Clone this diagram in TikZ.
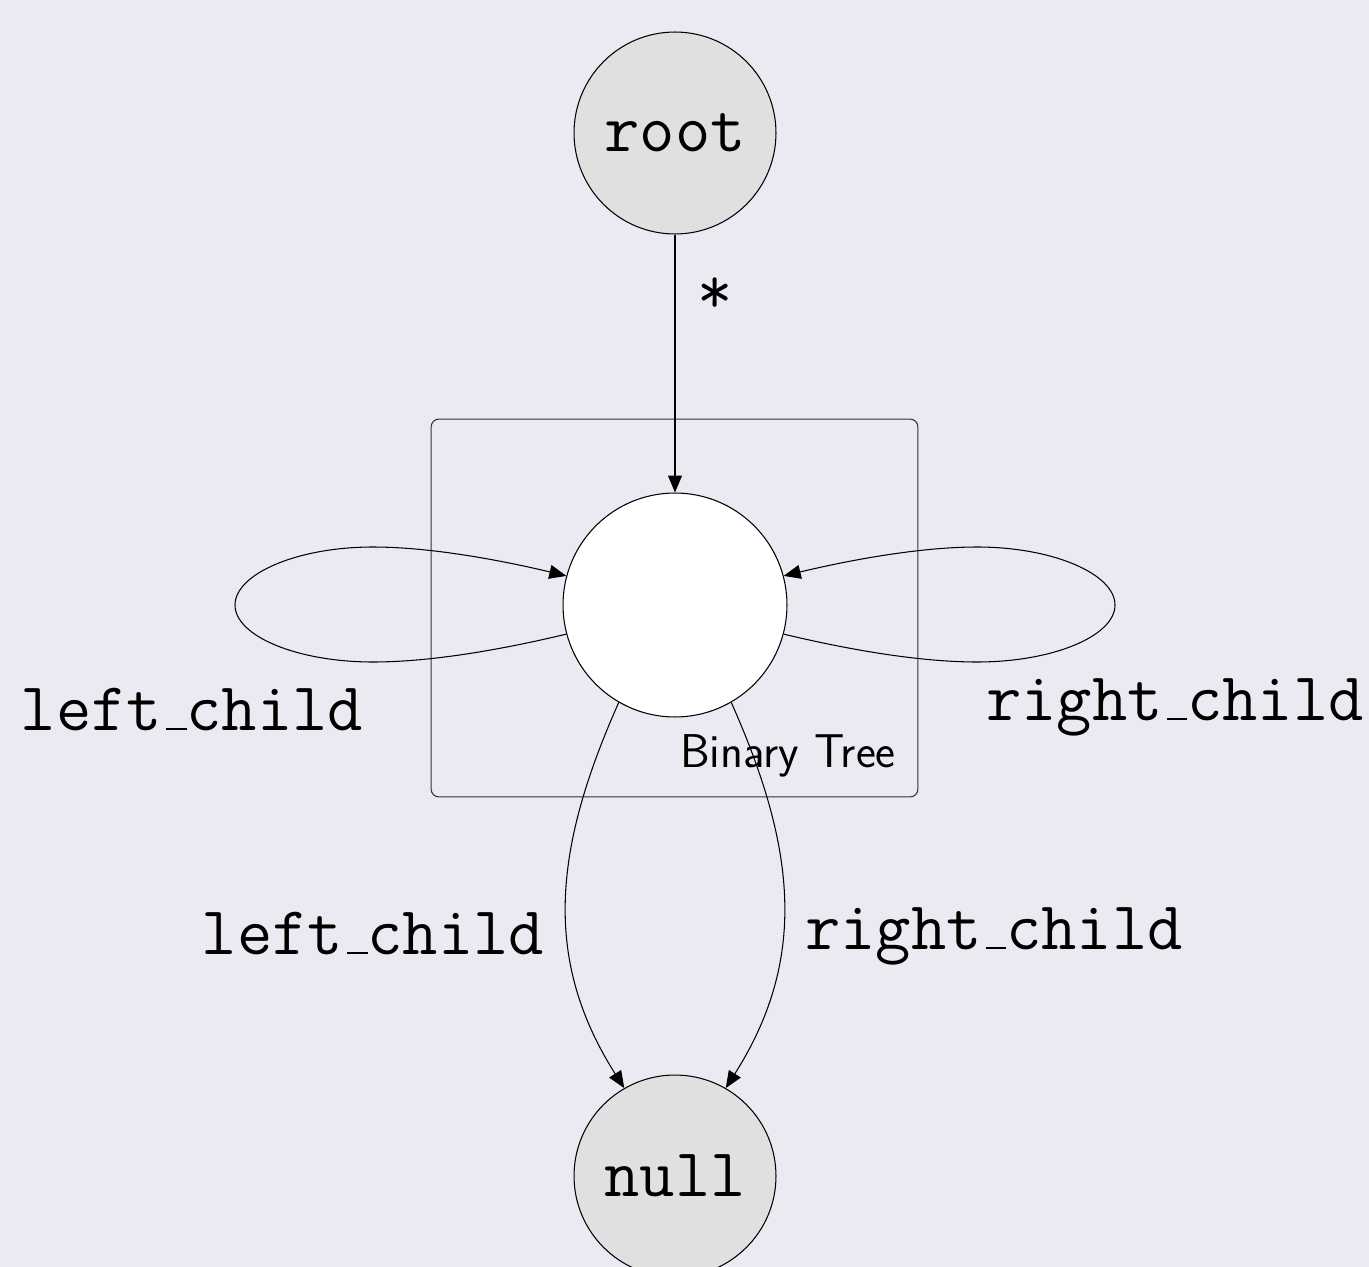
\documentclass[tikz,border=0pt]{standalone}
\usetikzlibrary{arrows.meta}
\definecolor{bgc}{HTML}{EAEAF2}
\definecolor{obsc}{HTML}{E0E0E0}
\newcommand{\usc}{\leavevmode\kern.06em\vbox{\hrule width.3em height 1pt}}
\tikzset{
  px/.style={x=0.02cm,y=-0.02cm},
  obsnode/.style={circle,draw=black,fill=obsc,line width=0.6pt,inner sep=0pt,minimum size=4.04cm,font=\fontsize{39}{42}\selectfont\ttfamily},
  latnode/.style={circle,draw=black,fill=white,line width=0.6pt,inner sep=0pt,minimum size=4.48cm},
  edgelbl/.style={anchor=base,font=\fontsize{39}{42}\selectfont\ttfamily,inner sep=0pt},
  platebox/.style={draw=black!80,line width=0.6pt,rounded corners=0.16cm,minimum width=9.74cm,minimum height=7.56cm,inner sep=0pt},
  edge/.style={draw=black,line width=0.6pt,-{Triangle[length=0.34cm,width=0.28cm]}}
}
\begin{document}
\begin{tikzpicture}[px]
\fill[bgc] (0,0) rectangle (1369,1267);
\useasboundingbox (0,0) rectangle (1369,1267);
\node[platebox] (plate) at (674.5,608) {};
\node[anchor=base east,font=\fontsize{27}{29}\selectfont\sffamily,inner sep=0pt] (platelbl) at (896,767) {Binary Tree};
\node[obsnode] (root) at (675,133) {root};
\node[latnode] (bt) at (675,605) {};
\node[obsnode] (null) at (675,1176) {null};
\draw[edge] (root) -- (bt);
\node[edgelbl] (star) at (715,314) {*};
\draw[edge] (bt.195) .. controls (500,650) and (430,662) .. (373,662)
  .. controls (297,662) and (235,636) .. (235,605)
  .. controls (235,574) and (297,547) .. (373,547)
  .. controls (430,547) and (500,560) .. (bt.165);
\draw[edge] (bt.345) .. controls (850,650) and (920,662) .. (977,662)
  .. controls (1053,662) and (1115,636) .. (1115,605)
  .. controls (1115,574) and (1053,547) .. (977,547)
  .. controls (920,547) and (850,560) .. (bt.15);
\draw[edge] (bt.240) .. controls (553,850) and (543,960) .. (null.120);
\draw[edge] (bt.300) .. controls (797,850) and (807,960) .. (null.60);
\node[edgelbl] (llab1) at (192,730) {left\usc child};
\node[edgelbl] (rlab1) at (1175,720) {right\usc child};
\node[edgelbl] (llab2) at (373,954) {left\usc child};
\node[edgelbl] (rlab2) at (994,949) {right\usc child};
\end{tikzpicture}
\end{document}
